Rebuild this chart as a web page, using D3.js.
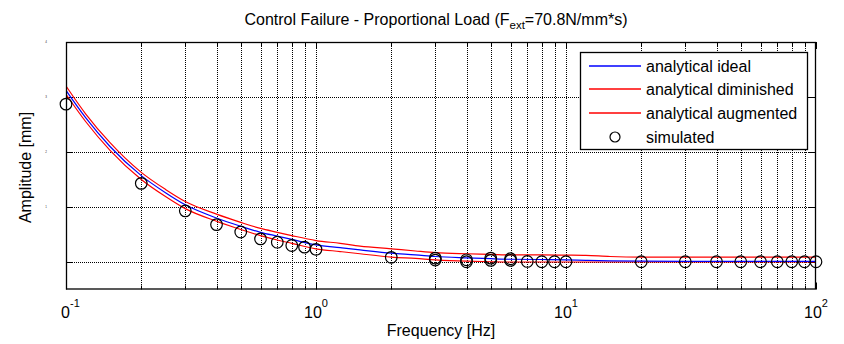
<!DOCTYPE html>
<html><head><meta charset="utf-8">
<script src="https://cdn.jsdelivr.net/npm/d3@7"></script>
<style>body{margin:0;background:#fff}svg{display:block}text{font-family:"Liberation Sans",Arial,sans-serif}</style>
</head><body><svg id="c" width="844" height="344"></svg>
<script>
// ---- data ----
const curveFreq = [0.1,0.12,0.15,0.2,0.25,0.3,0.4,0.5,0.6,0.7,0.8,1,1.25,1.5,2,2.5,3,4,5,6,8,10,12,15,20,30,50,100];
const ideal     = [3.12,2.62,2.10,1.57,1.26,1.04,0.80,0.65,0.54,0.47,0.41,0.31,0.26,0.22,0.16,0.13,0.10,0.075,0.06,0.05,0.045,0.04,0.03,0.02,0.015,0.01,0.01,0.01];
const augmented = [3.20,2.69,2.17,1.63,1.32,1.10,0.87,0.72,0.61,0.54,0.48,0.39,0.34,0.29,0.24,0.20,0.17,0.15,0.14,0.13,0.13,0.125,0.12,0.10,0.09,0.09,0.09,0.09];
const diminished= [3.05,2.55,2.03,1.50,1.19,0.97,0.74,0.59,0.48,0.40,0.34,0.24,0.19,0.15,0.09,0.065,0.04,0.015,0.005,0,0,0,0,0,0,0,0,0];
const simFreq   = [0.1,0.2,0.3,0.4,0.5,0.6,0.7,0.8,0.9,1,2,3,3,4,4,5,5,6,6,7,8,9,10,20,30,40,50,60,70,80,90,100];
const simAmp    = [2.87,1.43,0.93,0.68,0.545,0.42,0.36,0.30,0.27,0.23,0.085,0.07,0.035,0.04,0.005,0.07,0.03,0.06,0.03,0.01,0.005,0.005,0.005,0.005,0.005,0.005,0.005,0.005,0.005,0.005,0.005,0.005];
const yTicks = [0,1,2,3,4];
const yTickLabels = ["","1","2","3","4"];
const xMajor = [0.1,1,10,100];
const xMajorExp = ["-1","0","1","2"];
const legendItems = ["analytical ideal","analytical diminished","analytical augmented","simulated"];
const title = "Control Failure - Proportional Load (F";
const titleSub = "ext";
const titleRest = "=70.8N/mm*s)";

// ---- layout ----
const L=66, R=816, T=42, B=289.5;
const svg = d3.select("#c");
const x = d3.scaleLog().domain([0.1,100]).range([L,R]);
const y = d3.scaleLinear().domain([-0.5,4]).range([B,T]);

const minor = [];
for (let d=0.1; d<100; d*=10) for (let k=1;k<=9;k++) minor.push(+(d*k).toPrecision(3));
minor.push(100);

const defs = svg.append("defs");
defs.append("clipPath").attr("id","plot").append("rect")
  .attr("x",L).attr("y",T).attr("width",R-L).attr("height",B-T);
defs.append("clipPath").attr("id","lab").append("rect")
  .attr("x",61).attr("y",290).attr("width",800).attr("height",40);

// grid
const g = svg.append("g");
g.selectAll(".vg").data(minor.filter(v=>v>0.1&&v<100)).enter().append("line")
  .attr("x1",d=>Math.round(x(d))+0.5).attr("x2",d=>Math.round(x(d))+0.5).attr("y1",T).attr("y2",B)
  .attr("stroke","#000").attr("stroke-width",1).attr("stroke-dasharray","1,1");
g.selectAll(".hg").data(yTicks.filter(v=>v<4)).enter().append("line")
  .attr("x1",L).attr("x2",R).attr("y1",d=>Math.round(y(d))+0.5).attr("y2",d=>Math.round(y(d))+0.5)
  .attr("stroke","#000").attr("stroke-width",1).attr("stroke-dasharray","1,1");

// ticks (inward, all sides)
minor.forEach(v=>{
  const major = xMajor.includes(v);
  const len = major?7:4;
  const xx = Math.round(x(v))+0.5;
  g.append("line").attr("x1",xx).attr("x2",xx).attr("y1",B).attr("y2",B-len).attr("stroke","#000");
  g.append("line").attr("x1",xx).attr("x2",xx).attr("y1",T).attr("y2",T+len).attr("stroke","#000");
});
yTicks.forEach(v=>{
  const yy = Math.round(y(v))+0.5;
  g.append("line").attr("x1",L).attr("x2",L+7).attr("y1",yy).attr("y2",yy).attr("stroke","#000");
  g.append("line").attr("x1",R).attr("x2",R-7).attr("y1",yy).attr("y2",yy).attr("stroke","#000");
});

// curves
const plot = svg.append("g").attr("clip-path","url(#plot)");
const line = vals => d3.line().x((d,i)=>x(curveFreq[i])).y(d=>y(d)).curve(d3.curveMonotoneX)(vals);
plot.append("path").attr("d",line(augmented)).attr("fill","none").attr("stroke","#ff0000").attr("stroke-width",1.2);
plot.append("path").attr("d",line(diminished)).attr("fill","none").attr("stroke","#ff0000").attr("stroke-width",1.2);
plot.append("path").attr("d",line(ideal)).attr("fill","none").attr("stroke","#0000ff").attr("stroke-width",1.2);
svg.append("g").selectAll("circle").data(simAmp).enter().append("circle")
  .attr("cx",(d,i)=>x(simFreq[i])).attr("cy",d=>y(d)).attr("r",5.8)
  .attr("fill","none").attr("stroke","#000").attr("stroke-width",1.2);

// axes box
svg.append("rect").attr("x",L+0.5).attr("y",T+0.5).attr("width",R-L-1).attr("height",B-T-1)
  .attr("fill","none").attr("stroke","#000").attr("stroke-width",1.3);

// y tick labels (rendered tiny in the reference)
svg.selectAll(".yl").data(yTicks).enter().append("text")
  .attr("x",46).attr("y",d=>y(d)+1).attr("text-anchor","middle").attr("font-size",3).attr("fill","#333")
  .text((d,i)=>yTickLabels[i]);

// x tick labels
xMajor.forEach((v,i)=>{
  const t = svg.append("text").attr("x",x(v)).attr("y",318).attr("text-anchor","middle")
    .attr("font-size",16).attr("fill","#000");
  if (i===0) t.attr("clip-path","url(#lab)");
  t.append("tspan").text("10");
  t.append("tspan").attr("font-size",11).attr("dy",-11).text(xMajorExp[i]);
});

// axis labels and title
svg.append("text").attr("x",(L+R)/2).attr("y",336).attr("text-anchor","middle").attr("font-size",16).text("Frequency [Hz]");
svg.append("text").attr("transform","translate(31,167.5) rotate(-90)").attr("text-anchor","middle").attr("font-size",16).text("Amplitude [mm]");
const tt = svg.append("text").attr("x",436).attr("y",25).attr("text-anchor","middle").attr("font-size",16);
tt.append("tspan").text(title);
tt.append("tspan").attr("font-size",11.5).attr("dy",4).text(titleSub);
tt.append("tspan").attr("dy",-4).text(titleRest);

// legend
const lg = svg.append("g");
lg.append("rect").attr("x",580.5).attr("y",52.5).attr("width",227).attr("height",97)
  .attr("fill","#fff").attr("stroke","#000").attr("stroke-width",1.3);
const rowY = [66,89,113,137];
const colors = ["#0000ff","#ff0000","#ff0000"];
legendItems.forEach((name,i)=>{
  if (i<3) lg.append("line").attr("x1",589).attr("x2",641).attr("y1",rowY[i]).attr("y2",rowY[i]).attr("stroke",colors[i]).attr("stroke-width",1.5);
  else lg.append("circle").attr("cx",615).attr("cy",rowY[i]).attr("r",5).attr("fill","none").attr("stroke","#000").attr("stroke-width",1.2);
  lg.append("text").attr("x",646).attr("y",rowY[i]+6).attr("font-size",16).text(name);
});
</script></body></html>
